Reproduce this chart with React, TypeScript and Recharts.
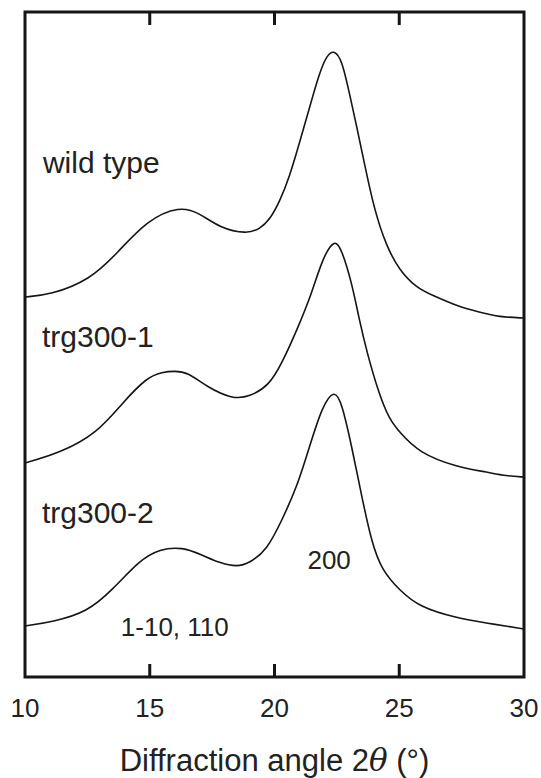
import React from 'react';
import { LineChart, Line, XAxis, YAxis, ReferenceDot, ReferenceArea, ReferenceLine } from 'recharts';

// Diffraction angle 2θ (degrees) and intensity (arbitrary units, curves offset vertically)
const wildTypeAngle = [10.0, 11.0, 12.6, 13.7, 14.9, 16.2, 17.0, 17.8, 18.9, 19.4, 19.8, 20.2, 20.6, 21.0, 21.4, 21.8, 22.1, 22.4, 22.7, 23.0, 23.3, 23.6, 24.0, 24.5, 25.0, 25.7, 26.3, 27.4, 28.2, 29.0, 30.0];
const wildTypeIntensity = [380, 382, 397, 424, 457, 471, 464, 449, 443, 448, 457, 475, 500, 534, 569, 604, 622, 627, 617, 584, 550, 514, 467, 430, 407, 389, 382, 370, 365, 360, 359];

const trg1Angle = [10.0, 11.4, 12.9, 13.9, 14.9, 15.5, 16.0, 16.5, 17.3, 18.3, 19.0, 19.8, 20.3, 20.9, 21.5, 21.9, 22.4, 22.7, 23.1, 23.4, 23.7, 24.2, 24.6, 25.0, 25.8, 27.3, 28.5, 29.3, 30.0];
const trg1Intensity = [214, 224, 244, 274, 300, 305, 306, 305, 290, 278, 280, 292, 314, 347, 384, 417, 439, 427, 394, 357, 325, 282, 258, 245, 224, 210, 205, 201, 200];

const trg2Angle = [10.0, 11.1, 12.5, 13.5, 14.6, 15.4, 16.3, 17.1, 17.8, 18.5, 19.0, 19.7, 20.3, 20.9, 21.4, 21.9, 22.4, 22.7, 23.1, 23.5, 23.9, 24.3, 25.0, 25.8, 27.3, 28.5, 30.0];
const trg2Intensity = [51, 55, 65, 87, 117, 128, 130, 122, 114, 110, 114, 127, 157, 190, 230, 270, 288, 274, 230, 180, 134, 107, 87, 70, 59, 54, 48];

const xTicks = [10, 15, 20, 25, 30];
const innerTicks = [15, 20, 25];
const xDomain = [10, 30];
const yDomain = [0, 665];
const tickLength = 13; // in intensity units (inward tick marks)

// annotations: text, angle position, intensity position (baseline), font size
const annotationText = ['wild type', 'trg300-1', 'trg300-2', '1-10, 110', '200'];
const annotationAngle = [10.72, 10.68, 10.68, 13.84, 21.32];
const annotationIntensity = [504, 330, 154, 41, 108];
const annotationSize = [30, 30, 30, 26, 26];

const zip = (a: number[], b: number[]) => a.map((x, i) => ({ x, y: b[i] }));
const wildTypeData = zip(wildTypeAngle, wildTypeIntensity);
const trg1Data = zip(trg1Angle, trg1Intensity);
const trg2Data = zip(trg2Angle, trg2Intensity);

const FONT = '"Liberation Sans", Arial, Helvetica, sans-serif';
const INK = '#151515';

const TitleLabel = (props: any) => {
  const vb = props.viewBox || {};
  const cx = vb.x + vb.width / 2;
  const y = vb.y + vb.height - 7;
  return (
    <text x={cx} y={y} textAnchor="middle" fontFamily={FONT} fontSize={31} fill="#222">
      <tspan>Diffraction angle 2</tspan>
      <tspan fontStyle="italic" fontFamily='"DejaVu Serif", serif'>θ</tspan>
      <tspan> (°)</tspan>
    </text>
  );
};

const BottomTickLabel = (props: any) => {
  const { x, y, payload } = props;
  return (
    <text x={x} y={y + 40} textAnchor="middle" fontFamily={FONT} fontSize={26} fill="#222">
      {payload.value}
    </text>
  );
};

export default function App() {
  return (
    <div style={{ position: 'absolute', left: 0, top: 0, width: 541, height: 778, background: '#fff' }}>
      <LineChart width={541} height={778} margin={{ top: 12, right: 16, bottom: 0, left: 24 }}>
        <XAxis
          xAxisId="bottom"
          type="number"
          dataKey="x"
          domain={xDomain}
          ticks={xTicks}
          interval={0}
          allowDataOverflow
          orientation="bottom"
          height={101}
          axisLine={false}
          tickLine={false}
          tickSize={0}
          tickMargin={0}
          tick={<BottomTickLabel />}
          label={{ content: TitleLabel }}
        />
        <YAxis yAxisId="left" type="number" domain={yDomain} allowDataOverflow width={1} tick={false} tickLine={false} axisLine={false} />
        <YAxis yAxisId="right" orientation="right" type="number" domain={yDomain} allowDataOverflow width={1} tick={false} tickLine={false} axisLine={false} />
        <ReferenceArea
          xAxisId="bottom"
          yAxisId="left"
          x1={xDomain[0]}
          x2={xDomain[1]}
          y1={yDomain[0]}
          y2={yDomain[1]}
          fill="none"
          fillOpacity={0}
          stroke={INK}
          strokeWidth={3}
          strokeOpacity={1}
        />
        {innerTicks.map((t) => (
          <ReferenceLine
            key={`b${t}`}
            xAxisId="bottom"
            yAxisId="left"
            segment={[{ x: t, y: yDomain[0] }, { x: t, y: yDomain[0] + tickLength }]}
            stroke={INK}
            strokeWidth={3}
            ifOverflow="visible"
          />
        ))}
        {innerTicks.map((t) => (
          <ReferenceLine
            key={`t${t}`}
            xAxisId="bottom"
            yAxisId="left"
            segment={[{ x: t, y: yDomain[1] }, { x: t, y: yDomain[1] - tickLength }]}
            stroke={INK}
            strokeWidth={3}
            ifOverflow="visible"
          />
        ))}
        <Line xAxisId="bottom" yAxisId="left" data={wildTypeData} dataKey="y" type="basis" stroke={INK} strokeWidth={1.6} dot={false} isAnimationActive={false} />
        <Line xAxisId="bottom" yAxisId="left" data={trg1Data} dataKey="y" type="basis" stroke={INK} strokeWidth={1.6} dot={false} isAnimationActive={false} />
        <Line xAxisId="bottom" yAxisId="left" data={trg2Data} dataKey="y" type="basis" stroke={INK} strokeWidth={1.6} dot={false} isAnimationActive={false} />
        {annotationText.map((t, i) => (
          <ReferenceDot
            key={t}
            xAxisId="bottom"
            yAxisId="left"
            x={annotationAngle[i]}
            y={annotationIntensity[i]}
            r={0}
            shape={(p: any) => (
              <text x={p.cx} y={p.cy} fontFamily={FONT} fontSize={annotationSize[i]} fill="#222">
                {t}
              </text>
            )}
          />
        ))}
      </LineChart>
    </div>
  );
}
